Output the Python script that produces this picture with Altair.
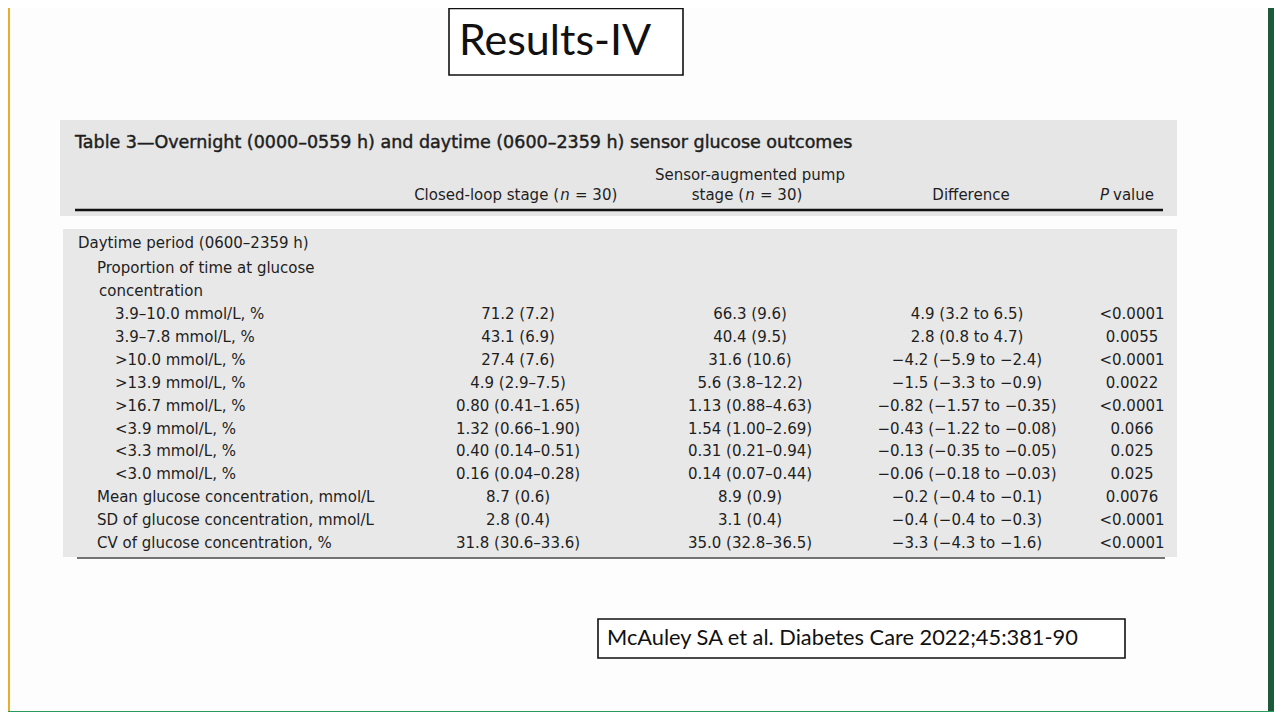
import altair as alt
import pandas as pd

# ---------------- data ----------------
slide_title = "Results-IV"
table_title = "Table 3—Overnight (0000–0559 h) and daytime (0600–2359 h) sensor glucose outcomes"
citation = "McAuley SA et al. Diabetes Care 2022;45:381-90"

section_label = "Daytime period (0600–2359 h)"
group_label = ["Proportion of time at glucose", "concentration"]

row_labels = [
    "3.9–10.0 mmol/L, %",
    "3.9–7.8 mmol/L, %",
    ">10.0 mmol/L, %",
    ">13.9 mmol/L, %",
    ">16.7 mmol/L, %",
    "<3.9 mmol/L, %",
    "<3.3 mmol/L, %",
    "<3.0 mmol/L, %",
    "Mean glucose concentration, mmol/L",
    "SD of glucose concentration, mmol/L",
    "CV of glucose concentration, %",
]
row_level = [2, 2, 2, 2, 2, 2, 2, 2, 1, 1, 1]

closed_loop = [
    "71.2 (7.2)", "43.1 (6.9)", "27.4 (7.6)", "4.9 (2.9–7.5)",
    "0.80 (0.41–1.65)", "1.32 (0.66–1.90)", "0.40 (0.14–0.51)",
    "0.16 (0.04–0.28)", "8.7 (0.6)", "2.8 (0.4)", "31.8 (30.6–33.6)",
]
sensor_pump = [
    "66.3 (9.6)", "40.4 (9.5)", "31.6 (10.6)", "5.6 (3.8–12.2)",
    "1.13 (0.88–4.63)", "1.54 (1.00–2.69)", "0.31 (0.21–0.94)",
    "0.14 (0.07–0.44)", "8.9 (0.9)", "3.1 (0.4)", "35.0 (32.8–36.5)",
]
difference = [
    "4.9 (3.2 to 6.5)", "2.8 (0.8 to 4.7)", "−4.2 (−5.9 to −2.4)",
    "−1.5 (−3.3 to −0.9)", "−0.82 (−1.57 to −0.35)", "−0.43 (−1.22 to −0.08)",
    "−0.13 (−0.35 to −0.05)", "−0.06 (−0.18 to −0.03)", "−0.2 (−0.4 to −0.1)",
    "−0.4 (−0.4 to −0.3)", "−3.3 (−4.3 to −1.6)",
]
p_values = [
    "<0.0001", "0.0055", "<0.0001", "0.0022", "<0.0001", "0.066",
    "0.025", "0.025", "0.0076", "<0.0001", "<0.0001",
]

NB = "\u00a0"
# header pieces: (plain left part, italic part, plain right part)
header_closed = ("Closed-loop stage (", "n", "=" + NB + "30)")
header_pump_top = "Sensor-augmented pump"
header_pump = ("stage (", "n", "=" + NB + "30)")
header_diff = "Difference"
header_p = ("P", "value")

# ---------------- layout (screen pixels of the slide) ----------------
W, H = 1266, 704
OFF = 8
TABLE_FONT = "DejaVu Sans"
SLIDE_FONT = "Lato"
TXT = "#1e1e1e"

ROW0, STEP = 314, 22.9
COL_X = [518, 750, 967, 1132]
INDENT = {0: 78, 1: 97, 2: 115}

xs = alt.Scale(domain=[OFF, OFF + W], range=[0, W], nice=False, zero=False)
ys = alt.Scale(domain=[OFF, OFF + H], range=[0, H], nice=False, zero=False)


def X(f="x"):
    return alt.X(f"{f}:Q", scale=xs, axis=None)


def Y(f="y"):
    return alt.Y(f"{f}:Q", scale=ys, axis=None)


def text_layer(df, align="center", size=15, font=TABLE_FONT, weight="normal",
               style="normal", color=TXT, stroke_w=0.0):
    kw = dict(align=align, baseline="middle", fontSize=size, font=font,
              fontWeight=weight, fontStyle=style, color=color)
    if stroke_w > 0:
        kw.update(stroke=color, strokeWidth=stroke_w)
    return alt.Chart(df).mark_text(**kw).encode(x=X(), y=Y(), text="t:N")


# background bands and boxes
boxes = pd.DataFrame([
    dict(x=0, x2=10, y=0, y2=720, c="#e6b02c"),        # left yellow stripe
    dict(x=1268, x2=1290, y=0, y2=720, c="#1c5a3a"),   # right green stripe
    dict(x=0, x2=1290, y=711, y2=730, c="#2a9a5c"),    # bottom green band
    dict(x=60, x2=1177, y=120, y2=216, c="#e6e6e6"),   # table header shade
    dict(x=63, x2=1177, y=229, y2=557, c="#e8e8e8"),   # table body shade
])
bands = alt.Chart(boxes).mark_rect().encode(
    x=X(), x2="x2:Q", y=Y(), y2="y2:Q",
    color=alt.Color("c:N", scale=None),
)

frames = pd.DataFrame([
    dict(x=449, x2=683, y=8.5, y2=75),
    dict(x=598, x2=1125, y=619, y2=658),
])
frame_marks = alt.Chart(frames).mark_rect(
    fill="white", stroke="#111111", strokeWidth=1.6
).encode(x=X(), x2="x2:Q", y=Y(), y2="y2:Q")

rules = pd.DataFrame([
    dict(x=75, x2=1163, y=210, w=2.6, c="#111111"),
    dict(x=77, x2=1165, y=558, w=1.4, c="#444444"),
])
rule_marks = alt.Chart(rules).mark_rule().encode(
    x=X(), x2="x2:Q", y=Y(),
    strokeWidth=alt.StrokeWidth("w:Q", scale=None),
    color=alt.Color("c:N", scale=None),
)

# slide title and citation
title_mark = text_layer(pd.DataFrame([dict(x=459, y=42, t=slide_title)]),
                        align="left", size=43, font=SLIDE_FONT, color="#111111")
cite_mark = text_layer(pd.DataFrame([dict(x=607, y=638, t=citation)]),
                       align="left", size=21.8, font=SLIDE_FONT, color="#111111")

# table title
ttitle = text_layer(pd.DataFrame([dict(x=75, y=143, t=table_title)]),
                    align="left", size=17.5, stroke_w=0.45)

# column headers
hdr_center = pd.DataFrame([
    dict(x=COL_X[1], y=175, t=header_pump_top),
    dict(x=971, y=195, t=header_diff),
])
hdr_left_parts = pd.DataFrame([
    dict(x=559, y=195, t=header_closed[0]),
    dict(x=744, y=195, t=header_pump[0]),
])
hdr_italic = pd.DataFrame([
    dict(x=565, y=195, t=header_closed[1]),
    dict(x=750, y=195, t=header_pump[1]),
])
hdr_right_parts = pd.DataFrame([
    dict(x=575, y=195, t=header_closed[2]),
    dict(x=760, y=195, t=header_pump[2]),
    dict(x=1113, y=195, t=header_p[1]),
])
hdr_p = pd.DataFrame([dict(x=1109, y=195, t=header_p[0])])

headers = [
    text_layer(hdr_center),
    text_layer(hdr_left_parts, align="right"),
    text_layer(hdr_italic, style="italic"),
    text_layer(hdr_right_parts, align="left"),
    text_layer(hdr_p, align="right", style="italic"),
]

# row labels
label_rows = [dict(x=INDENT[0], y=ROW0 - 3 * STEP - 2, t=section_label),
              dict(x=INDENT[1], y=ROW0 - 2 * STEP, t=group_label[0]),
              dict(x=INDENT[1] + 2, y=ROW0 - 1 * STEP, t=group_label[1])]
for i, (lab, lev) in enumerate(zip(row_labels, row_level)):
    label_rows.append(dict(x=INDENT[lev], y=ROW0 + i * STEP, t=lab))
labels = text_layer(pd.DataFrame(label_rows), align="left")

# value cells
cells = []
for j, col in enumerate([closed_loop, sensor_pump, difference, p_values]):
    for i, v in enumerate(col):
        cells.append(dict(x=COL_X[j], y=ROW0 + i * STEP, t=v))
values = text_layer(pd.DataFrame(cells))

chart = alt.layer(
    bands, rule_marks, frame_marks, title_mark, cite_mark, ttitle,
    *headers, labels, values,
).properties(
    width=W, height=H, background="#fdfdfd",
    autosize=alt.AutoSizeParams(type="none"), padding=0,
).configure_view(strokeWidth=0)

chart.save("out.html", embed_options={"renderer": "svg", "actions": False})
